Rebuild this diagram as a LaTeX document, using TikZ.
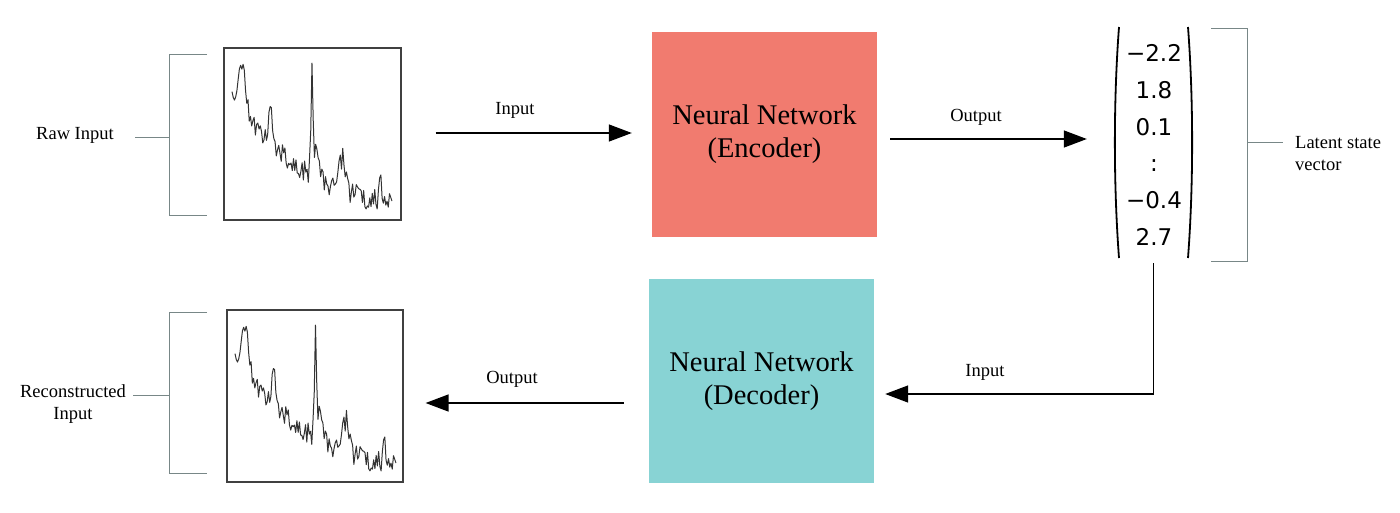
\documentclass[tikz,border=0pt]{standalone}
\usepackage{fontspec}
\setmainfont{Liberation Serif}
\newfontfamily\numfont{DejaVu Sans}
\usetikzlibrary{arrows.meta,calc}
\definecolor{encred}{RGB}{241,123,111}
\definecolor{deccyan}{RGB}{136,211,212}
\definecolor{brk}{RGB}{120,135,135}
\begin{document}
\begin{tikzpicture}[x=1pt,y=-1pt,
  lbl/.style={font=\fontsize{18.5}{22}\selectfont, inner sep=0pt, align=center},
  plotbox/.style={draw=black!75, line width=1.2pt, inner sep=0pt},
  nnbox/.style={draw=none, inner sep=0pt, align=center, font=\fontsize{28.5}{33}\selectfont},
  conn/.style={line width=1.4pt, black},
  arr/.style={conn, -{Triangle[length=23pt,width=17pt]}},
  brkline/.style={draw=brk, line width=1pt},
  paren/.style={line width=1.8pt, black},
  sig/.style={line width=1pt, black!80, line join=round},
  declare function={sigv(\t)=128*exp(-2.1*\t)
     +42*max(0,1-abs(\t-0.065)/0.05)
     +48*max(0,1-abs(\t-0.24)/0.018)
     +95*max(0,1-abs(\t-0.5)/0.014)
     +32*max(0,1-abs(\t-0.52)/0.045)
     +36*max(0,1-abs(\t-0.69)/0.045)
     +20*max(0,1-abs(\t-0.93)/0.025)
     +11*rand;}]
\useasboundingbox (0,0) rectangle (1400,512);

% plot boxes
\node[plotbox, minimum width=177pt, minimum height=172pt] (raw) at (312.5,134) {};
\node[plotbox, minimum width=176pt, minimum height=172pt] (rec) at (315,396) {};

% signals
\pgfmathsetseed{11}
\draw[sig] plot[domain=0:1, samples=131] ({232+160*\x},{220-sigv(\x)});
\pgfmathsetseed{11}
\draw[sig] plot[domain=0:1, samples=131] ({235+161*\x},{482-sigv(\x)});

% encoder / decoder
\node[nnbox, fill=encred, minimum width=225pt, minimum height=205pt] (enc) at (764.5,134.5) {Neural Network\\(Encoder)};
\node[nnbox, fill=deccyan, minimum width=225pt, minimum height=204pt] (dec) at (761.5,381) {Neural Network\\(Decoder)};

% latent vector
\node[inner sep=0pt, minimum width=77pt, minimum height=231pt] (vecbox) at (1153.5,142.5) {};
\node[inner sep=0pt, align=center, font=\numfont\fontsize{23}{36.8}\selectfont] (vec) at (1154,145) {−2.2\\1.8\\0.1\\:\\−0.4\\2.7};
\draw[paren] (1119,27) .. controls (1113.5,100) and (1113.5,185) .. (1119,258);
\draw[paren] (1188,27) .. controls (1193.5,100) and (1193.5,185) .. (1188,258);

% labels
\node[lbl] (rawlbl) at (75,135) {Raw Input};
\node[lbl] (reclbl) at (73,404) {Reconstructed\\Input};
\node[lbl, align=left, anchor=west] (latlbl) at (1295,154) {Latent state\\vector};
\node[lbl] (in1) at (515,110) {Input};
\node[lbl] (out1) at (976,117) {Output};
\node[lbl] (in2) at (985,372) {Input};
\node[lbl] (out2) at (512,379) {Output};

% brackets
\draw[brkline] (207,54) -- (169,54) -- (169,215) -- (207,215);
\draw[brkline] (135,137) -- (169,137);
\draw[brkline] (207,312) -- (169,312) -- (169,473) -- (207,473);
\draw[brkline] (133,395) -- (169,395);
\draw[brkline] (1211,28) -- (1247,28) -- (1247,261) -- (1211,261);
\draw[brkline] (1247,142) -- (1283,142);

% connectors
\draw[arr] ([xshift=34pt,yshift=1pt]raw.east) -- ([xshift=-20pt,yshift=1.5pt]enc.west);
\draw[arr] ([xshift=13pt,yshift=-4.5pt]enc.east) -- ([xshift=-28pt,yshift=3.5pt]vecbox.west);
\coordinate (decin) at ($(dec.east)+(11,13)$);
\draw[arr] ([yshift=-5pt]vecbox.south) |- (decin);
\draw[arr] ([xshift=-25pt,yshift=-22pt]dec.west) -- ([xshift=22pt,yshift=-7pt]rec.east);
\end{tikzpicture}
\end{document}
